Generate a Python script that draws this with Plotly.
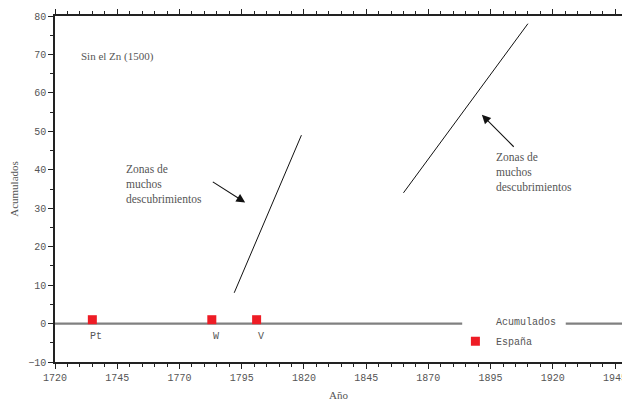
import plotly.graph_objects as go

# ---- data ----
disc_years = [1735, 1783, 1801]
disc_acum = [1, 1, 1]
disc_labels = ["Pt", "W", "V"]

acum_years = [1720, 1950]
acum_values = [0, 0]

zone1_years = [1792, 1819]
zone1_values = [8, 49]
zone2_years = [1860, 1910]
zone2_values = [34, 78]

x_ticks = [1720, 1745, 1770, 1795, 1820, 1845, 1870, 1895, 1920, 1945]
y_ticks = [-10, 0, 10, 20, 30, 40, 50, 60, 70, 80]

MONO = "Liberation Mono"
SERIF = "Liberation Serif"
TXT = "#555555"
AX = "#222222"

fig = go.Figure()

fig.add_trace(go.Scatter(x=acum_years, y=acum_values, mode="lines",
                         line=dict(color="#808080", width=2.2),
                         name="Acumulados", showlegend=False, hoverinfo="skip"))
fig.add_trace(go.Scatter(x=zone1_years, y=zone1_values, mode="lines",
                         line=dict(color="#111111", width=1),
                         showlegend=False, hoverinfo="skip"))
fig.add_trace(go.Scatter(x=zone2_years, y=zone2_values, mode="lines",
                         line=dict(color="#111111", width=1),
                         showlegend=False, hoverinfo="skip"))
fig.add_trace(go.Scatter(x=disc_years, y=disc_acum, mode="markers",
                         marker=dict(symbol="square", size=9, color="#ee1c25",
                                     line=dict(width=0)),
                         name="España", showlegend=False))
# invisible trace to activate the top axis
fig.add_trace(go.Scatter(x=acum_years, y=acum_values, xaxis="x2", mode="lines",
                         line=dict(width=0), opacity=0, showlegend=False,
                         hoverinfo="skip"))

# manual legend
fig.add_shape(type="rect", xref="x", yref="y", x0=1883.6, x1=1925.2, y0=-2, y1=2,
              fillcolor="white", line=dict(width=0), layer="above")
fig.add_trace(go.Scatter(x=[1888.9], y=[-4.6], mode="markers",
                         marker=dict(symbol="square", size=9, color="#ee1c25",
                                     line=dict(width=0)),
                         showlegend=False, hoverinfo="skip"))

ann = []
ann.append(dict(x=1896.2, y=0.2, text="Acumulados", showarrow=False,
                xanchor="left", yanchor="middle",
                font=dict(family=MONO, size=10, color=TXT)))
ann.append(dict(x=1896.2, y=-4.9, text="España", showarrow=False,
                xanchor="left", yanchor="middle",
                font=dict(family=MONO, size=10, color=TXT)))

for xv, lab in zip(disc_years, disc_labels):
    ann.append(dict(x=xv, y=-3.3, text=lab, showarrow=False, xshift=4,
                    xanchor="center", yanchor="middle",
                    font=dict(family=MONO, size=10, color=TXT)))

ann.append(dict(x=1729.5, y=69.4, text="Sin el Zn (1500)", showarrow=False,
                xanchor="left", yanchor="middle",
                font=dict(family=SERIF, size=11, color=TXT)))

zone_text = "Zonas de<br>muchos<br>descubrimientos"
ann.append(dict(x=1747.6, y=36.3, text=zone_text, showarrow=False, align="left",
                xanchor="left", yanchor="middle",
                font=dict(family=SERIF, size=11.5, color=TXT)))
ann.append(dict(x=1896.4, y=39.4, text=zone_text, showarrow=False, align="left",
                xanchor="left", yanchor="middle",
                font=dict(family=SERIF, size=11.5, color=TXT)))

ann.append(dict(x=1796.4, y=31.5, ax=1782.8, ay=37.1, axref="x", ayref="y",
                text="", showarrow=True, arrowhead=2, arrowsize=1.6,
                arrowwidth=1.1, arrowcolor="#111111"))
ann.append(dict(x=1891.5, y=54.3, ax=1904.9, ay=45.6, axref="x", ayref="y",
                text="", showarrow=True, arrowhead=2, arrowsize=1.6,
                arrowwidth=1.1, arrowcolor="#111111"))

fig.update_layout(
    width=622, height=401,
    margin=dict(l=55, r=0, t=16, b=38.5, autoexpand=False),
    paper_bgcolor="white", plot_bgcolor="white",
    annotations=ann,
    font=dict(family=MONO, size=10, color=TXT),
)

common_x = dict(range=[1720, 1947.8], tickvals=x_ticks,
                ticks="outside", ticklen=5, tickwidth=1, tickcolor=AX,
                minor=dict(dtick=5, tick0=1720, ticks="outside", ticklen=3,
                           tickcolor=AX, tickwidth=1),
                showline=True, linecolor=AX, linewidth=1.5,
                showgrid=False, zeroline=False, automargin=False)

fig.update_layout(
    xaxis=dict(**common_x, mirror=False, ticklabeloverflow="allow",
               tickfont=dict(family=MONO, size=10, color=TXT),
               title=dict(text="Año", font=dict(family=SERIF, size=11, color=TXT),
                          standoff=13)),
    xaxis2=dict(**common_x, overlaying="x", side="top", matches="x",
                showticklabels=False),
)

fig.update_yaxes(range=[-10, 80], tickvals=y_ticks,
                 ticks="outside", ticklen=5, tickwidth=1, tickcolor=AX,
                 minor=dict(dtick=5, tick0=0, ticks="outside", ticklen=3,
                            tickcolor=AX, tickwidth=1),
                 showline=True, linecolor=AX, linewidth=1.5, mirror=False,
                 showgrid=False, zeroline=False, automargin=False,
                 tickfont=dict(family=MONO, size=10, color=TXT),
                 title=dict(text="Acumulados", font=dict(family=SERIF, size=11, color=TXT),
                            standoff=7))

fig.write_html("out.html", config={"displayModeBar": False},
               post_script="document.body.style.margin='0';document.body.style.overflow='hidden';")
